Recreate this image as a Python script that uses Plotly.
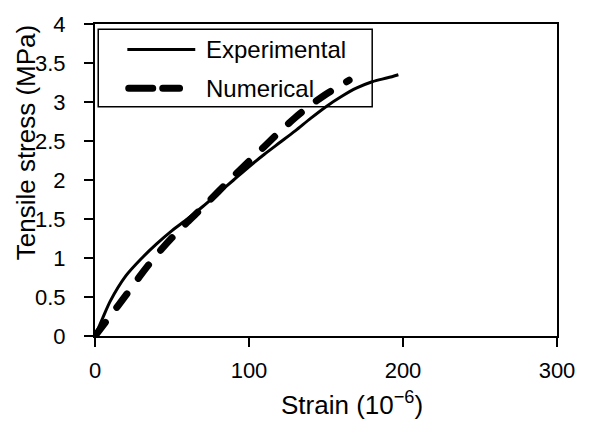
import plotly.graph_objects as go

# ---- data ----
exp_strain = [0, 5, 10, 20, 30, 40, 50, 60, 70, 80, 90, 100, 110, 120, 130, 140, 150, 160, 170, 180, 190, 197]
exp_stress = [0, 0.23, 0.45, 0.77, 0.99, 1.18, 1.35, 1.50, 1.66, 1.83, 2.00, 2.17, 2.33, 2.48, 2.63, 2.79, 2.94, 3.07, 3.18, 3.26, 3.31, 3.35]
num_strain = [0, 10, 20, 30, 40, 50, 60, 70, 80, 90, 100, 110, 120, 130, 140, 150, 160, 165]
num_stress = [0, 0.26, 0.52, 0.79, 1.04, 1.26, 1.46, 1.65, 1.85, 2.05, 2.24, 2.43, 2.62, 2.80, 2.96, 3.10, 3.22, 3.28]
x_ticks = [0, 100, 200, 300]
y_ticks = [0, 0.5, 1, 1.5, 2, 2.5, 3, 3.5, 4]
series_names = ["Experimental", "Numerical"]
x_title = "Strain (10<sup>−6</sup>)"
y_title = "Tensile stress (MPa)"

FONT = "Liberation Sans, Arial, sans-serif"
NUM_DASH = "17px,19px"

fig = go.Figure()
fig.add_trace(go.Scatter(x=exp_strain, y=exp_stress, mode="lines", name=series_names[0],
                         line=dict(color="black", width=3, shape="spline", smoothing=0.8),
                         showlegend=False))
fig.add_trace(go.Scatter(x=num_strain, y=num_stress, mode="lines", name=series_names[1],
                         line=dict(color="black", width=7, dash=NUM_DASH, shape="spline", smoothing=0.8),
                         showlegend=False))

axis_common = dict(showgrid=False, zeroline=False, showline=True, linecolor="black", linewidth=2,
                   mirror=True, ticks="outside", ticklen=9, tickwidth=1.5, tickcolor="black",
                   tickfont=dict(family=FONT, size=22, color="black"))

fig.update_xaxes(range=[0, 300], tickvals=x_ticks, ticklabelstandoff=5, **axis_common)
fig.update_yaxes(range=[0, 4], tickvals=y_ticks, ticklabelstandoff=14, **axis_common)

# custom legend (box, samples, labels)
shapes = [
    dict(type="rect", xref="paper", yref="paper", x0=0.007, x1=0.600, y0=0.735, y1=0.9835,
         line=dict(color="black", width=1.5), fillcolor="rgba(0,0,0,0)", layer="above"),
    dict(type="line", xref="paper", yref="paper", x0=0.070, x1=0.217, y0=0.918, y1=0.918,
         line=dict(color="black", width=3), layer="above"),
    dict(type="line", xref="paper", yref="paper", x0=0.073, x1=0.183, y0=0.794, y1=0.794,
         line=dict(color="black", width=7, dash="24px,10px"), layer="above"),
]
annotations = [
    dict(text=series_names[0], xref="paper", yref="paper", x=0.2366, y=0.918, xanchor="left",
         yanchor="middle", showarrow=False, font=dict(family=FONT, size=24, color="black")),
    dict(text=series_names[1], xref="paper", yref="paper", x=0.2366, y=0.794, xanchor="left",
         yanchor="middle", showarrow=False, font=dict(family=FONT, size=24, color="black")),
    dict(text=x_title, xref="paper", yref="paper", x=0.556, y=-0.215, xanchor="center",
         yanchor="middle", showarrow=False, font=dict(family=FONT, size=26, color="black")),
    dict(text=y_title, xref="paper", yref="paper", x=-0.150, y=0.62, xanchor="center",
         yanchor="middle", textangle=-90, showarrow=False,
         font=dict(family=FONT, size=26, color="black")),
]

fig.update_layout(width=592, height=426, autosize=False,
                  margin=dict(l=95, r=35, t=14, b=90, pad=0),
                  paper_bgcolor="white", plot_bgcolor="white",
                  shapes=shapes, annotations=annotations, showlegend=False)

post = """
document.body.style.margin='0';
document.querySelectorAll('path').forEach(function(p){
  var d = p.style.strokeDasharray;
  if (d && d !== 'none') { p.style.strokeLinecap = 'round'; }
});
"""
fig.write_html("out.html", post_script=post, config={"displayModeBar": False})
